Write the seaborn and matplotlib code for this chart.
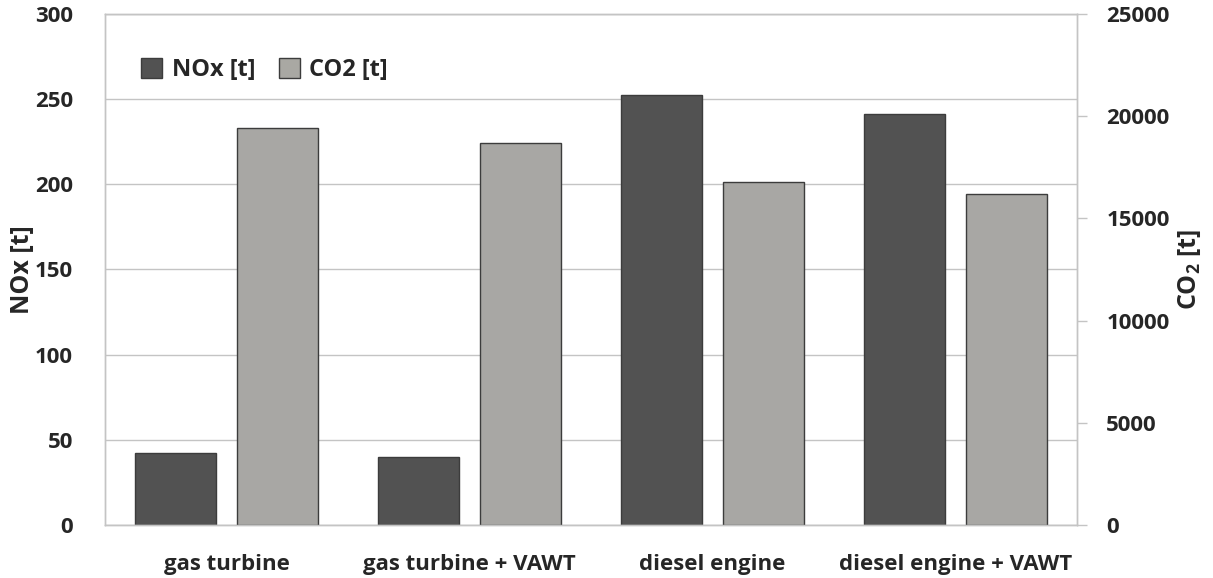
import pandas as pd
import numpy as np
import matplotlib
matplotlib.use("Agg")
import matplotlib.pyplot as plt
import matplotlib.patches as patches
import seaborn as sns

# values
categories = ["gas turbine", "gas turbine + VAWT", "diesel engine", "diesel engine + VAWT"]
nox_t = [42.4, 39.7, 252.5, 241.2]
co2_t = [19440, 18690, 16770, 16210]
series = ["NOx [t]", "CO2 [t]"]
nox_ticks = [0, 50, 100, 150, 200, 250, 300]
co2_ticks = [0, 5000, 10000, 15000, 20000, 25000]

nox_color = "#525252"
co2_color = "#a9a8a3"
edge = "#3c3c3c"
grid_grey = "#c4c4c4"

sns.set_style("white")
plt.rcParams["font.family"] = ["Open Sans", "DejaVu Sans"]
plt.rcParams["font.weight"] = "bold"
plt.rcParams["mathtext.default"] = "regular"

# long table: each axis gets its own series, the other one left empty
df = pd.DataFrame({
    "category": categories * 2,
    "series": [series[0]] * 4 + [series[1]] * 4,
    "nox": nox_t + [np.nan] * 4,
    "co2": [np.nan] * 4 + co2_t,
})

fig = plt.figure(figsize=(12.13, 5.78), dpi=100)
ax = fig.add_axes([0.0866, 0.0917, 0.8013, 0.8841])
ax2 = ax.twinx()

pal = {series[0]: nox_color, series[1]: co2_color}
sns.barplot(data=df, x="category", y="nox", hue="series", hue_order=series,
            palette=pal, width=0.84, gap=0.2, order=categories,
            edgecolor=edge, linewidth=1.0, errorbar=None, legend=False, ax=ax)
sns.barplot(data=df, x="category", y="co2", hue="series", hue_order=series,
            palette=pal, width=0.84, gap=0.2, order=categories,
            edgecolor=edge, linewidth=1.0, errorbar=None, legend=False, ax=ax2)

ax.set_ylim(0, 300)
ax.set_yticks(nox_ticks)
ax2.set_ylim(0, 25000)
ax2.set_yticks(co2_ticks)
ax.set_xlim(-0.5, len(categories) - 0.5)

ax.yaxis.grid(True, color=grid_grey, linewidth=1.0)
ax.set_axisbelow(True)
for a in (ax, ax2):
    for s in a.spines.values():
        s.set_color(grid_grey)
        s.set_linewidth(1.0)

ax.tick_params(axis="y", length=0, pad=23, labelsize=16)
ax.tick_params(axis="x", length=0, pad=21, labelsize=16)
ax2.tick_params(axis="y", length=7, width=1, color=grid_grey, direction="out",
                pad=14, labelsize=16)
for lbl in ax.get_xticklabels() + ax.get_yticklabels() + ax2.get_yticklabels():
    lbl.set_fontweight("bold")

ax.set_xlabel("")
ax.set_ylabel("NOx [t]", fontsize=18, fontweight="bold")
ax2.set_ylabel("CO$_2$ [t]", fontsize=18, fontweight="bold")
ax.yaxis.set_label_coords(-0.072, 0.5)
ax2.yaxis.set_label_coords(1.103, 0.5)

handles = [patches.Patch(facecolor=nox_color, edgecolor=edge, label=series[0]),
           patches.Patch(facecolor=co2_color, edgecolor=edge, label=series[1])]
ax2.legend(handles=handles, loc="upper left", bbox_to_anchor=(0.015, 0.955), ncol=2,
           frameon=False, prop={"size": 17, "weight": "bold"},
           handlelength=0.9, handleheight=0.9, handletextpad=0.4, columnspacing=1.0)

fig.savefig("out.png", dpi=100, facecolor="white")
